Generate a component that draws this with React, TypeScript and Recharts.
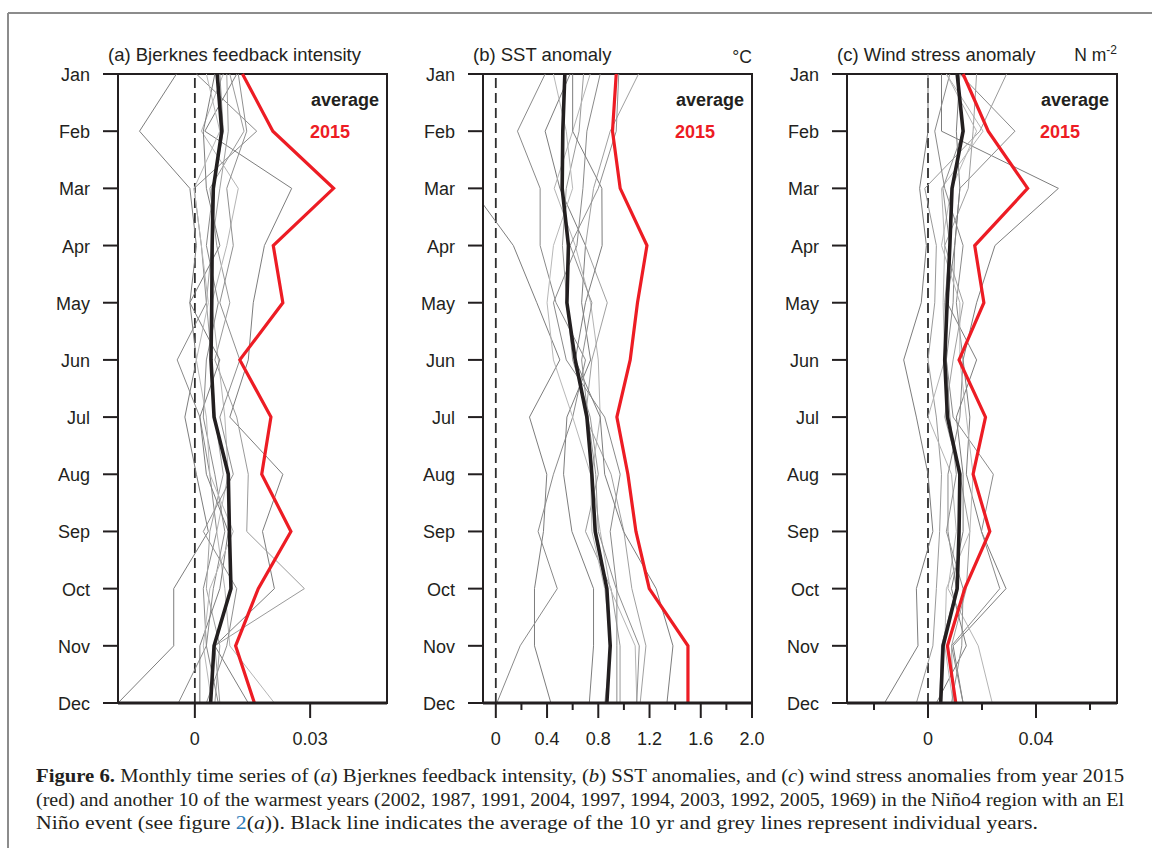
import React from 'react';
import { LineChart, Line, XAxis, YAxis, ReferenceLine, ReferenceArea } from 'recharts';

const months = ['Jan', 'Feb', 'Mar', 'Apr', 'May', 'Jun', 'Jul', 'Aug', 'Sep', 'Oct', 'Nov', 'Dec'];

// (a) Bjerknes feedback intensity
const bjerknesAvg = [0.0058, 0.007, 0.0048, 0.0045, 0.0044, 0.0042, 0.005, 0.0087, 0.009, 0.0094, 0.005, 0.0041];
const bjerknes2015 = [0.0124, 0.0203, 0.0361, 0.0204, 0.0229, 0.0117, 0.0198, 0.0174, 0.025, 0.0165, 0.0106, 0.0155];
const bjerknesYears = [
  [-0.0048, -0.0144, -0.0013, 0.0004, -0.0013, 0.0004, -0.0026, 0.0004, 0.0035, -0.0055, -0.0055, -0.02],
  [0.0004, 0.0161, -0.0002, 0.0017, 0.003, -0.0046, 0.0013, 0.0039, 0.0057, 0.0022, 0.003, -0.0043],
  [0.0109, 0.0026, 0.0252, 0.0181, 0.0152, 0.0139, 0.0091, 0.0229, 0.0176, 0.0207, 0.0052, 0.0139],
  [0.0091, 0.0128, 0.0039, 0.0057, 0.0091, 0.0052, 0.0109, 0.0139, 0.0135, 0.0285, 0.0052, 0.0065],
  [0.0074, 0.0017, 0.0113, 0.0083, 0.0044, 0.0061, 0.0078, 0.0087, 0.0057, 0.0078, 0.0091, 0.0207],
  [0.0065, 0.0074, 0.0048, 0.003, 0.0061, 0.003, 0.0022, 0.0052, 0.0078, 0.0048, 0.003, 0.0061],
  [0.0083, 0.0087, 0.0065, 0.0044, 0.003, 0.0044, 0.0052, 0.0074, 0.0039, 0.003, 0.0065, 0.0052],
  [0.0052, 0.0022, 0.003, 0.0065, -0.0013, 0.0065, 0.0013, 0.003, 0.0087, 0.0065, 0.0013, 0.0013],
  [0.003, 0.0065, -0.0002, 0.0017, 0.0035, 0.0004, 0.003, 0.0039, 0.01, 0.0039, 0.0022, 0.0044],
  [0.0113, 0.0135, 0.0083, 0.01, 0.0065, 0.0117, 0.0065, 0.01, 0.0022, 0.0109, 0.0083, 0.003],
];

// (b) SST anomaly
const sstAvg = [0.539, 0.523, 0.518, 0.567, 0.555, 0.62, 0.711, 0.75, 0.776, 0.867, 0.893, 0.867];
const sst2015 = [0.94, 0.911, 0.971, 1.18, 1.106, 1.049, 0.945, 1.031, 1.094, 1.198, 1.5, 1.5];
const sstYears = [
  [-0.3, -0.25, -0.19, 0.137, 0.32, 0.5, 0.263, 0.398, 0.372, 0.302, 0.302, 0.43],
  [0.385, 0.169, 0.346, 0.346, 0.47, 0.7, 0.6, 0.45, 0.33, 0.48, 0.19, 0.008],
  [0.58, 0.385, 0.5, 0.7, 0.67, 0.74, 0.555, 0.529, 0.594, 0.763, 0.763, 0.73],
  [0.685, 0.65, 0.55, 0.52, 0.555, 0.6, 0.737, 0.8, 0.7, 0.9, 0.97, 0.97],
  [0.737, 0.6, 0.456, 0.62, 0.74, 0.8, 0.815, 0.75, 0.815, 0.893, 1.088, 1.101],
  [0.815, 0.711, 0.68, 0.633, 0.45, 0.55, 0.85, 0.971, 0.893, 0.945, 0.945, 0.945],
  [1.114, 0.893, 0.763, 0.7, 0.87, 0.75, 0.7, 0.9, 1.0, 1.062, 1.172, 1.127],
  [0.6, 0.6, 0.828, 0.83, 0.7, 0.62, 0.815, 0.85, 0.997, 1.252, 1.383, 1.336],
  [0.45, 0.55, 0.6, 0.45, 0.4, 0.45, 0.6, 0.74, 0.75, 0.85, 0.9, 0.85],
  [0.96, 0.94, 0.8, 0.58, 0.75, 0.67, 0.72, 0.78, 0.8, 0.94, 1.12, 1.1],
];

// (c) Wind stress anomaly
const windAvg = [0.0108, 0.013, 0.0089, 0.0081, 0.0071, 0.0062, 0.0072, 0.0118, 0.0115, 0.0108, 0.0056, 0.0047];
const wind2015 = [0.013, 0.0223, 0.0369, 0.0173, 0.0207, 0.0115, 0.0213, 0.0167, 0.0229, 0.0136, 0.0072, 0.0103];
const windYears = [
  [0.005, 0.005, 0.0483, 0.0248, 0.018, 0.013, 0.0155, 0.0142, 0.0198, 0.0289, 0.0093, 0.013],
  [0.0118, 0.0322, 0.0118, 0.0099, 0.0093, 0.0068, 0.0093, 0.0242, 0.0198, 0.0266, 0.0087, 0.013],
  [0.0, 0.0, -0.0031, -0.0006, -0.0025, -0.009, -0.0043, 0.0, 0.0018, -0.0043, -0.0037, -0.0161],
  [0.0291, 0.0192, -0.0012, 0.0031, 0.0025, 0.0, 0.0031, 0.005, 0.0043, 0.0031, 0.0018, -0.0043],
  [0.0068, 0.0204, 0.005, 0.0062, 0.0056, 0.0062, 0.0, 0.0087, 0.0105, 0.0074, 0.0186, 0.0238],
  [0.0081, 0.0025, 0.0062, 0.013, 0.0105, 0.013, 0.0118, 0.0074, 0.0074, 0.0105, 0.005, 0.0043],
  [0.018, 0.0167, 0.0149, 0.0062, 0.013, 0.0093, 0.0062, 0.0118, 0.0155, 0.0142, 0.0087, 0.0093],
  [0.0118, 0.0105, 0.0118, 0.0099, 0.0071, 0.018, 0.0105, 0.013, 0.013, 0.0087, 0.0142, 0.0031],
  [0.0068, 0.018, 0.0087, 0.005, 0.0118, 0.0118, 0.0142, 0.0167, 0.0155, 0.0068, 0.0062, 0.0093],
  [0.0105, 0.013, 0.0055, 0.0081, 0.0062, 0.0068, 0.0081, 0.0105, 0.0068, 0.013, 0.0125, 0.0087],
];

const bjerknesTicks = [0, 0.03];
const bjerknesLabels = [0, 0.03];
const sstTicks = [0, 0.2, 0.4, 0.6, 0.8, 1.0, 1.2, 1.4, 1.6, 1.8, 2.0];
const sstLabels = [0, 0.4, 0.8, 1.2, 1.6, 2.0];
const windTicks = [-0.02, 0, 0.02, 0.04, 0.06];
const windLabels = [0, 0.04];
const monthTicks = [0, 1, 2, 3, 4, 5, 6, 7, 8, 9, 10, 11];

const W = 1152;
const H = 848;
const PLOT_TOP = 74;
const PLOT_BOTTOM = 703;
const SANS = '"Liberation Sans", Arial, Helvetica, sans-serif';
const SERIF = '"Liberation Serif", "Times New Roman", serif';
const INK = '#231f20';
const RED = '#ed1c24';
const greyShades = ['#7d7d7d', '#8a8a8a', '#7d7d7d', '#9a9a9a', '#b4b4b4', '#8a8a8a', '#a0a0a0', '#7d7d7d', '#b8b8b8', '#909090'];

type Panel = {
  key: string;
  title: string;
  unit: React.ReactNode;
  left: number;
  right: number;
  domain: [number, number];
  ticks: number[];
  labels: number[];
  fmt: (v: number) => string;
  avg: number[];
  y2015: number[];
  years: number[][];
};

const panels: Panel[] = [
  {
    key: 'a', title: '(a) Bjerknes feedback intensity', unit: null, left: 118, right: 387,
    domain: [-0.02, 0.05], ticks: bjerknesTicks, labels: bjerknesLabels,
    fmt: (v) => (v === 0 ? '0' : v.toFixed(2)), avg: bjerknesAvg, y2015: bjerknes2015, years: bjerknesYears,
  },
  {
    key: 'b', title: '(b) SST anomaly', unit: '°C', left: 483, right: 752,
    domain: [-0.1, 2.0], ticks: sstTicks, labels: sstLabels,
    fmt: (v) => (v === 0 ? '0' : v.toFixed(1)), avg: sstAvg, y2015: sst2015, years: sstYears,
  },
  {
    key: 'c', title: '(c) Wind stress anomaly', unit: 'N m', left: 847, right: 1117,
    domain: [-0.03, 0.07], ticks: windTicks, labels: windLabels,
    fmt: (v) => (v === 0 ? '0' : v.toFixed(2)), avg: windAvg, y2015: wind2015, years: windYears,
  },
];

const makeXTick = (labels: number[], fmt: (v: number) => string) => (props: any) => {
  const { x, y, payload } = props;
  const major = labels.some((m) => Math.abs(m - payload.value) < 1e-9);
  return (
    <g>
      <line x1={x} x2={x} y1={y} y2={y + (major ? 15 : 7)} stroke={INK} strokeWidth={2} />
      {major && (
        <text x={x} y={y + 42} textAnchor="middle" fontSize={18} fill={INK} fontFamily={SANS}>
          {fmt(payload.value)}
        </text>
      )}
    </g>
  );
};

const YTick = (props: any) => {
  const { x, y, payload } = props;
  return (
    <g>
      <line x1={x - 15} x2={x} y1={y} y2={y} stroke={INK} strokeWidth={2} />
      <text x={x - 28} y={y + 7} textAnchor="end" fontSize={18} fill={INK} fontFamily={SANS}>
        {months[payload.value]}
      </text>
    </g>
  );
};

function PanelChart({ p }: { p: Panel }) {
  const rows = months.map((name, i) => {
    const r: any = { m: i, month: name, avg: p.avg[i], y2015: p.y2015[i] };
    p.years.forEach((s, k) => {
      r['g' + k] = s[i];
    });
    return r;
  });
  return (
    <div style={{ position: 'absolute', left: 0, top: 0 }}>
      <LineChart
        width={W}
        height={H}
        layout="vertical"
        data={rows}
        margin={{ top: PLOT_TOP, right: W - p.right, bottom: H - PLOT_BOTTOM - 30, left: p.left - 60 }}
      >
        <XAxis
          type="number"
          domain={p.domain}
          allowDataOverflow
          ticks={p.ticks}
          interval={0}
          tickSize={0}
          tickMargin={0}
          tickLine={false}
          tick={makeXTick(p.labels, p.fmt)}
          axisLine={{ stroke: INK, strokeWidth: 3 }}
          height={30}
        />
        <YAxis
          type="number"
          dataKey="m"
          domain={[0, 11]}
          ticks={monthTicks}
          interval={0}
          tickSize={0}
          tickMargin={0}
          tickLine={false}
          tick={YTick}
          axisLine={{ stroke: INK, strokeWidth: 2 }}
          width={60}
        />
        <ReferenceArea
          x1={p.domain[0]}
          x2={p.domain[1]}
          y1={0}
          y2={11}
          fill="none"
          fillOpacity={0}
          stroke={INK}
          strokeWidth={2}
        />
        <ReferenceLine x={0} stroke="#2e2e2e" strokeWidth={1.8} strokeDasharray="10 5" />
        {p.years.map((_, k) => (
          <Line
            key={k}
            dataKey={'g' + k}
            stroke={greyShades[k]}
            strokeWidth={1}
            dot={false}
            isAnimationActive={false}
            type="linear"
          />
        ))}
        <Line dataKey="avg" stroke={INK} strokeWidth={3.6} dot={false} isAnimationActive={false} type="linear" />
        <Line dataKey="y2015" stroke={RED} strokeWidth={3.2} dot={false} isAnimationActive={false} type="linear" />
      </LineChart>
    </div>
  );
}

function Overlay() {
  const capY = [782, 806, 829];
  return (
    <svg width={W} height={H} style={{ position: 'absolute', left: 0, top: 0, pointerEvents: 'none' }}>
      <line x1={8} x2={W} y1={13} y2={13} stroke="#8c8c8c" strokeWidth={2} />
      <line x1={8} x2={8} y1={13} y2={H} stroke="#8c8c8c" strokeWidth={2} />
      {panels.map((p) => (
        <g key={p.key} fontFamily={SANS}>
          <text x={p.left - 10} y={61} fontSize={18.5} fill={INK}>{p.title}</text>
          {p.key === 'b' && (
            <text x={p.right} y={63} fontSize={17.5} fill={INK} textAnchor="end">{p.unit}</text>
          )}
          {p.key === 'c' && (
            <text x={p.right} y={61} fontSize={17.5} fill={INK} textAnchor="end">
              {p.unit}
              <tspan fontSize={12} dy={-7}>-2</tspan>
            </text>
          )}
          <text x={p.right - 8} y={106} fontSize={18} fontWeight="bold" fill={INK} textAnchor="end">average</text>
          <text x={p.right - 77} y={138} fontSize={18} fontWeight="bold" fill={RED}>2015</text>
        </g>
      ))}
      <g fontFamily={SERIF} fontSize={19.5} fill={INK}>
        <text x={36} y={capY[0]} textLength={1088} lengthAdjust="spacingAndGlyphs">
          <tspan fontWeight="bold">Figure 6.</tspan>
          {'  Monthly time series of ('}
          <tspan fontStyle="italic">a</tspan>
          {') Bjerknes feedback intensity, ('}
          <tspan fontStyle="italic">b</tspan>
          {') SST anomalies, and ('}
          <tspan fontStyle="italic">c</tspan>
          {') wind stress anomalies from year 2015'}
        </text>
        <text x={36} y={capY[1]} textLength={1088} lengthAdjust="spacingAndGlyphs">
          (red) and another 10 of the warmest years (2002, 1987, 1991, 2004, 1997, 1994, 2003, 1992, 2005, 1969) in the Niño4 region with an El
        </text>
        <text x={36} y={capY[2]} textLength={1002} lengthAdjust="spacingAndGlyphs">
          {'Niño event (see figure '}
          <tspan fill="#2b7bb9">2</tspan>
          {'('}
          <tspan fontStyle="italic">a</tspan>
          {')). Black line indicates the average of the 10 yr and grey lines represent individual years.'}
        </text>
      </g>
    </svg>
  );
}

export default function App() {
  return (
    <div style={{ position: 'absolute', left: 0, top: 0, width: W, height: H, background: '#fff', overflow: 'hidden' }}>
      {panels.map((p) => (
        <PanelChart key={p.key} p={p} />
      ))}
      <Overlay />
    </div>
  );
}
